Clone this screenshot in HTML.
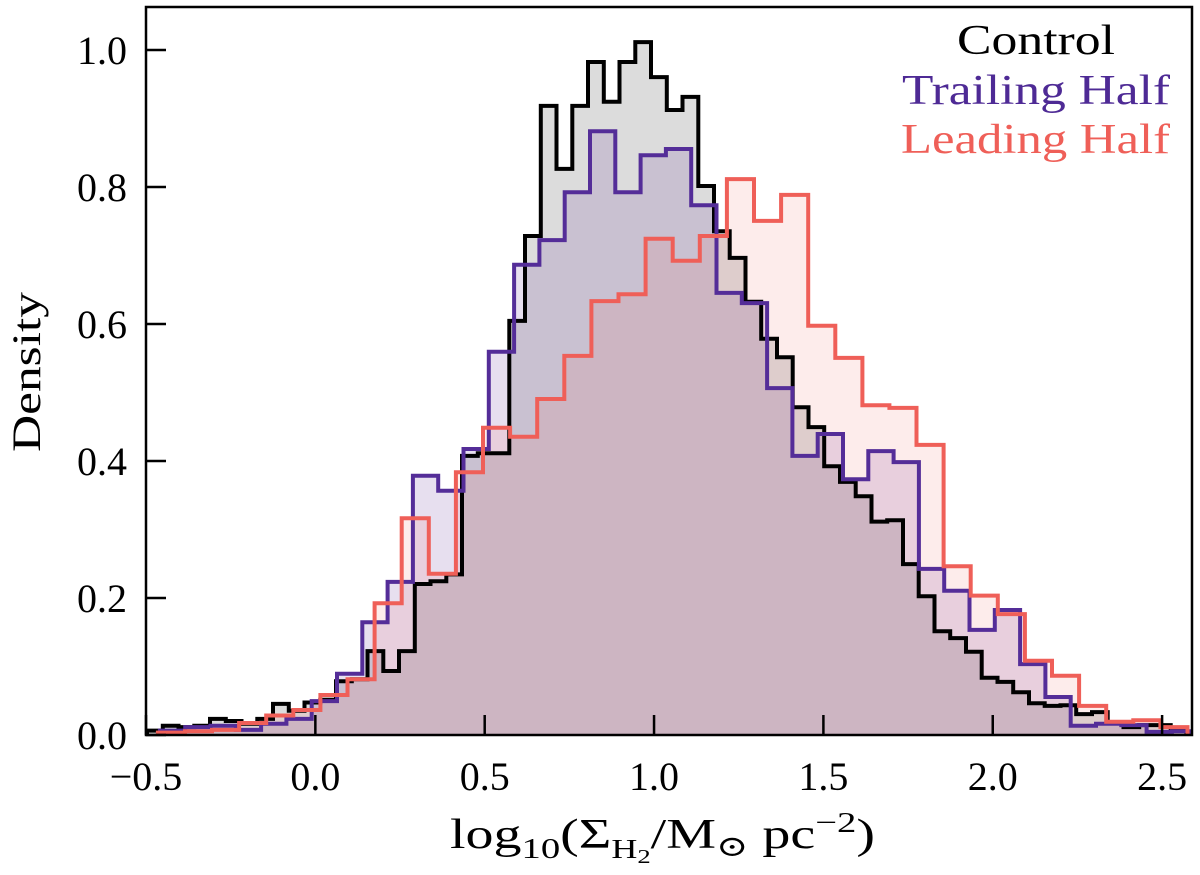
<!DOCTYPE html>
<html><head><meta charset="utf-8"><style>
html,body{margin:0;padding:0;background:#fff;}
svg{display:block;font-family:"Liberation Serif","DejaVu Serif",serif;}
</style></head><body>
<svg id="chart" width="1200" height="875" viewBox="0 0 1200 875" xmlns="http://www.w3.org/2000/svg">
<g id="fills"></g>
<g id="lines"></g>
<rect x="146" y="7" width="1046" height="728" fill="none" stroke="#000" stroke-width="2.5"/>
<g id="axes"></g>
<text x="40" y="372" font-size="40" text-anchor="middle" textLength="160" lengthAdjust="spacingAndGlyphs" transform="rotate(-90 40 372)">Density</text>
<text x="450" y="848" font-size="42" textLength="425" lengthAdjust="spacingAndGlyphs">log<tspan font-size="29" dy="10">10</tspan><tspan dy="-10">(Σ</tspan><tspan font-size="27" dy="10">H</tspan><tspan font-size="20" dy="5">2</tspan><tspan dy="-15">/M</tspan><tspan font-size="29" dy="8">⊙</tspan><tspan dy="-8"> pc</tspan><tspan font-size="29" dy="-16">−2</tspan><tspan dy="16">)</tspan></text>
<g>
<text x="957" y="54" font-size="42" textLength="158" lengthAdjust="spacingAndGlyphs" fill="#000">Control</text>
<text x="902" y="104" font-size="42" textLength="268" lengthAdjust="spacingAndGlyphs" fill="#4e2a95">Trailing Half</text>
<text x="901" y="153" font-size="42" textLength="269" lengthAdjust="spacingAndGlyphs" fill="#ef5f58">Leading Half</text>
</g>
</svg>
<script>
// Control (black) histogram
const controlStart = -0.497;
const controlWidth = 0.0465;
const controlValues = [0.005,0.012,0.01,0.012,0.022,0.019,0.015,0.022,0.044,0.034,0.046,0.05,0.077,0.08,0.121,0.092,0.121,0.219,0.223,0.233,0.406,0.41,0.41,0.603,0.727,0.917,0.825,0.917,0.981,0.923,0.981,1.010,0.959,0.911,0.930,0.80,0.734,0.695,0.631,0.577,0.550,0.477,0.448,0.391,0.368,0.347,0.31,0.312,0.248,0.201,0.150,0.14,0.12,0.082,0.076,0.061,0.045,0.041,0.042,0.029,0.032,0.017,0.010,0.013,0.013,0.005];
// Trailing half (purple)
const trailingStart = -0.459;
const trailingWidth = 0.0747;
const trailingValues = [0.005,0.01,0.012,0.006,0.015,0.022,0.048,0.088,0.163,0.222,0.377,0.355,0.416,0.558,0.685,0.721,0.791,0.880,0.791,0.845,0.854,0.772,0.644,0.629,0.505,0.406,0.438,0.372,0.413,0.397,0.241,0.209,0.152,0.181,0.102,0.054,0.012,0.015,0.013,0.003,0.004];
// Leading half (red)
const leadingStart = -0.465;
const leadingWidth = 0.080;
const leadingValues = [0.002,0.004,0.006,0.016,0.027,0.035,0.057,0.08,0.191,0.315,0.234,0.382,0.447,0.434,0.489,0.552,0.632,0.642,0.723,0.691,0.727,0.81,0.749,0.787,0.596,0.549,0.48,0.476,0.422,0.245,0.202,0.175,0.107,0.085,0.041,0.018,0.02,0.01];
const xTicks = [-0.5,0.0,0.5,1.0,1.5,2.0,2.5];
const xTickLabels = ["\u22120.5","0.0","0.5","1.0","1.5","2.0","2.5"];
const yTicks = [0.0,0.2,0.4,0.6,0.8,1.0];
const yTickLabels = ["0.0","0.2","0.4","0.6","0.8","1.0"];

const X0=146, X1=1192, Y0=735, Y1=7;
const XMIN=-0.5, XSCALE=338.7, YSCALE=685;
function xs(v){return X0+(v-XMIN)*XSCALE;}
function ys(v){return Y0-1-v*YSCALE;}
const NS="http://www.w3.org/2000/svg";
function mk(tag,attrs,parent){const e=document.createElementNS(NS,tag);for(const k in attrs)e.setAttribute(k,attrs[k]);parent.appendChild(e);return e;}

const fills=document.getElementById('fills'), lines=document.getElementById('lines'), axes=document.getElementById('axes');
function stepPath(start,width,vals){
  let d="M"+xs(start).toFixed(1)+","+ys(0).toFixed(1);
  for(let i=0;i<vals.length;i++){
    const a=xs(start+i*width), b=Math.min(xs(start+(i+1)*width),X1-1);
    d+=" L"+a.toFixed(1)+","+ys(vals[i]).toFixed(1)+" L"+b.toFixed(1)+","+ys(vals[i]).toFixed(1);
  }
  const end=Math.min(xs(start+vals.length*width),X1-1);
  d+=" L"+end.toFixed(1)+","+ys(0).toFixed(1);
  return d;
}
const series=[
  {name:'control',start:controlStart,width:controlWidth,vals:controlValues,color:'#000000',fill:'rgba(0,0,0,0.137)'},
  {name:'trailing-half',start:trailingStart,width:trailingWidth,vals:trailingValues,color:'#542d98',fill:'rgba(91,42,150,0.15)'},
  {name:'leading-half',start:leadingStart,width:leadingWidth,vals:leadingValues,color:'#ef5f58',fill:'rgba(239,95,88,0.12)'}
];
series.forEach(s=>{
  const d=stepPath(s.start,s.width,s.vals);
  const f=mk('path',{d:d+" Z",fill:s.fill,stroke:'none'},fills);
  
  
  const l=mk('path',{d:d,fill:'none',stroke:s.color,'stroke-width':4,'stroke-linejoin':'miter'},lines);
  
  
});
xTicks.forEach((t,i)=>{
  const x=xs(t);
  const tk=mk('line',{x1:x,x2:x,y1:Y0,y2:Y0-20,stroke:'#000','stroke-width':2.5},axes);
  
  
  const tx=mk('text',{x:x,y:790,'font-size':40,'text-anchor':'middle'},axes);
  tx.textContent=xTickLabels[i];
  
  
});
yTicks.forEach((t,i)=>{
  const y=Y0-t*YSCALE;
  const tk=mk('line',{x1:X0,x2:X0+20,y1:y,y2:y,stroke:'#000','stroke-width':2.5},axes);
  
  
  const tx=mk('text',{x:127,y:y+14,'font-size':40,'text-anchor':'end'},axes);
  tx.textContent=yTickLabels[i];
  
  
});
</script>
</body></html>
